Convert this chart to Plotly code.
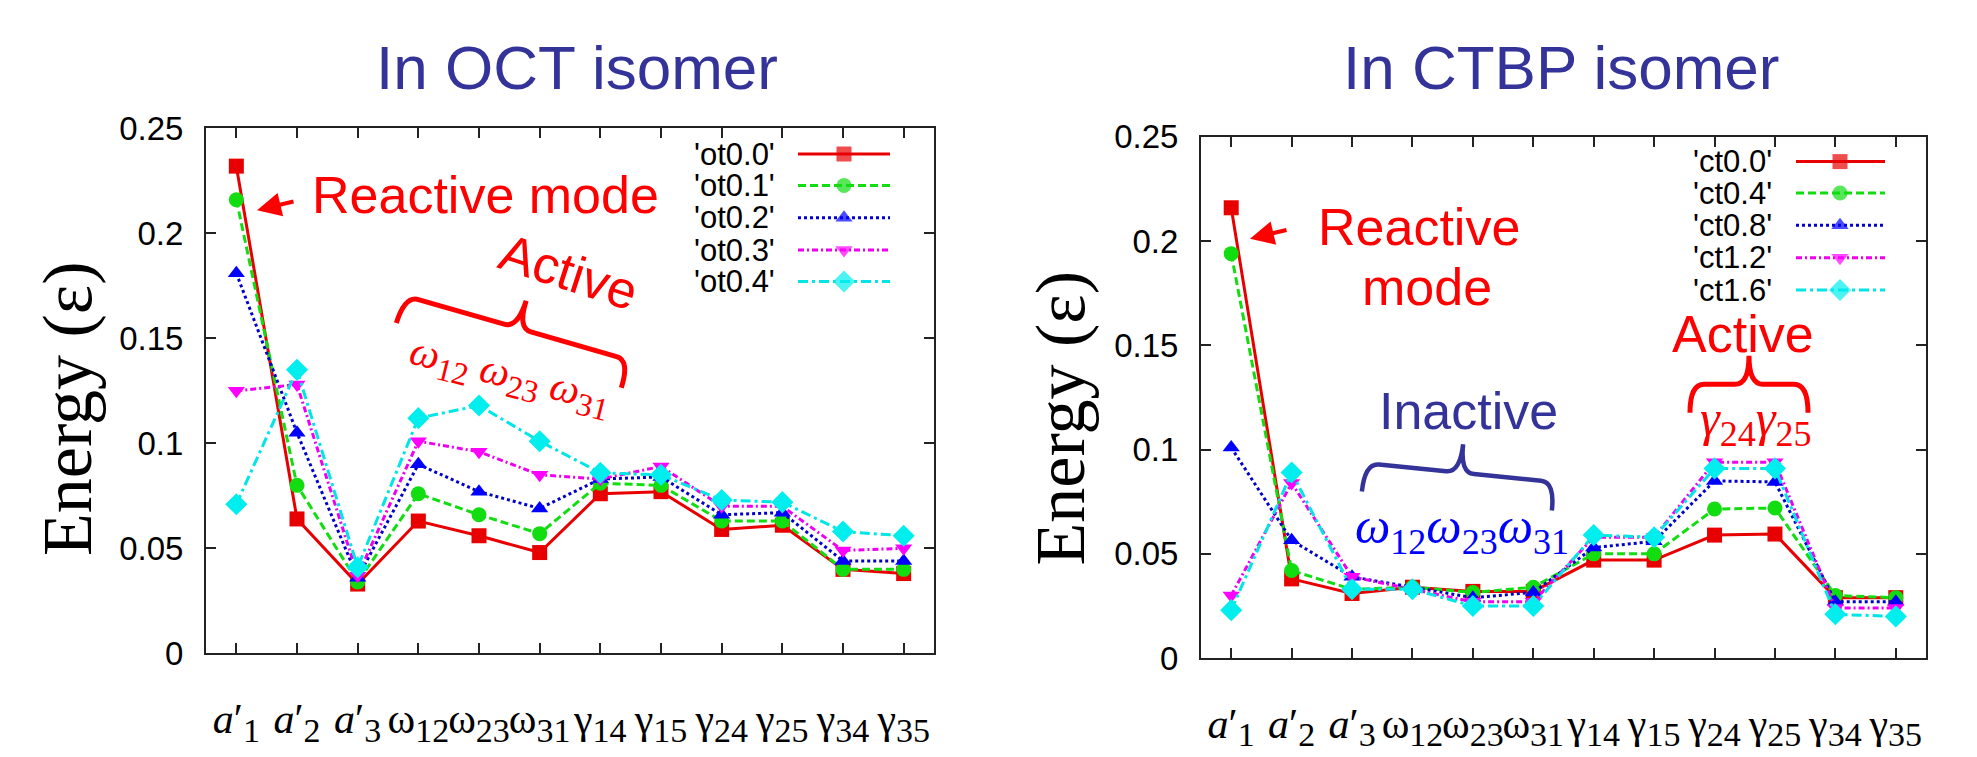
import math
import plotly.graph_objects as go

W, H = 1977, 757

# ---------------- data ----------------
tick_labels = [
    "<i>a</i>′<sub><span style='font-size:34px'>1</span></sub>",
    "<i>a</i>′<sub><span style='font-size:34px'>2</span></sub>",
    "<i>a</i>′<sub><span style='font-size:34px'>3</span></sub>",
    "ω<sub><span style='font-size:34px'>12</span></sub>",
    "ω<sub><span style='font-size:34px'>23</span></sub>",
    "ω<sub><span style='font-size:34px'>31</span></sub>",
    "γ<sub><span style='font-size:34px'>14</span></sub>",
    "γ<sub><span style='font-size:34px'>15</span></sub>",
    "γ<sub><span style='font-size:34px'>24</span></sub>",
    "γ<sub><span style='font-size:34px'>25</span></sub>",
    "γ<sub><span style='font-size:34px'>34</span></sub>",
    "γ<sub><span style='font-size:34px'>35</span></sub>",
]
modes = list(range(12))

oct_names = ["'ot0.0'", "'ot0.1'", "'ot0.2'", "'ot0.3'", "'ot0.4'"]
ot00 = [0.232, 0.064, 0.033, 0.063, 0.056, 0.048, 0.076, 0.077, 0.059, 0.061, 0.040, 0.038]
ot01 = [0.216, 0.080, 0.034, 0.076, 0.066, 0.057, 0.081, 0.080, 0.063, 0.063, 0.040, 0.040]
ot02 = [0.181, 0.105, 0.036, 0.090, 0.077, 0.069, 0.083, 0.084, 0.066, 0.067, 0.044, 0.044]
ot03 = [0.125, 0.128, 0.037, 0.101, 0.096, 0.085, 0.083, 0.089, 0.070, 0.070, 0.049, 0.050]
ot04 = [0.071, 0.135, 0.041, 0.112, 0.118, 0.101, 0.086, 0.085, 0.073, 0.072, 0.058, 0.056]

ctbp_names = ["'ct0.0'", "'ct0.4'", "'ct0.8'", "'ct1.2'", "'ct1.6'"]
ct00 = [0.216, 0.038, 0.031, 0.034, 0.032, 0.032, 0.047, 0.047, 0.059, 0.0595, 0.029, 0.029]
ct04 = [0.194, 0.042, 0.033, 0.034, 0.0315, 0.034, 0.050, 0.050, 0.0715, 0.072, 0.030, 0.029]
ct08 = [0.101, 0.0565, 0.039, 0.034, 0.029, 0.0315, 0.053, 0.056, 0.085, 0.0845, 0.027, 0.027]
ct12 = [0.030, 0.084, 0.039, 0.033, 0.027, 0.027, 0.058, 0.058, 0.094, 0.094, 0.024, 0.024]
ct16 = [0.023, 0.089, 0.033, 0.033, 0.025, 0.025, 0.059, 0.058, 0.091, 0.091, 0.021, 0.020]

y_tickvals = [0, 0.05, 0.1, 0.15, 0.2, 0.25]
y_ticktext = ["0", "0.05", "0.1", "0.15", "0.2", "0.25"]

# ---------------- styles ----------------
colors = ["#e80000", "#11dd11", "#0000cc", "#ee00ee", "#00e5e5"]
marker_colors = ["#e80000", "#11dd11", "#0000ff", "#ff00ff", "#00eeee"]
dashes = ["solid", "8px,4px", "3px,3px", "6px,3px,2px,3px", "10px,4px,3px,4px"]
symbols = ["square", "circle", "triangle-up", "triangle-down", "diamond"]
msizes = [15, 15, 15, 15, 17]
LW = 3

NAVY = "#333399"
RED = "#ff0000"


def px(x):
    return x / W


def py(y):
    return 1 - y / H


fig = go.Figure()

series_sets = [
    (oct_names, [ot00, ot01, ot02, ot03, ot04], "x", "y"),
    (ctbp_names, [ct00, ct04, ct08, ct12, ct16], "x2", "y2"),
]
for names, sets, xa, ya in series_sets:
    for i, (nm, vals) in enumerate(zip(names, sets)):
        fig.add_trace(go.Scatter(
            x=modes, y=vals, name=nm, mode="lines+markers",
            xaxis=xa, yaxis=ya, showlegend=False,
            line=dict(color=colors[i], width=LW, dash=dashes[i]),
            marker=dict(symbol=symbols[i], size=msizes[i], color=marker_colors[i],
                        line=dict(width=0)),
            cliponaxis=False,
        ))

# ---------------- manual gnuplot-style legends ----------------
legend_layouts = [
    (oct_names, 777, 798, 844, 890, [143, 176, 210, 244, 277]),
    (ctbp_names, 1774, 1796, 1840, 1885, [151, 184, 218, 252, 286]),
]
annotations = []
for names, tx, lx0, lxm, lx1, rows in legend_layouts:
    for i, (nm, ry) in enumerate(zip(names, rows)):
        fig.add_trace(go.Scatter(
            x=[lx0, lxm, lx1], y=[ry, ry, ry], mode="lines+markers",
            xaxis="x3", yaxis="y3", showlegend=False, hoverinfo="skip",
            line=dict(color=colors[i], width=LW, dash=dashes[i]),
            marker=dict(symbol=symbols[i], size=[0, msizes[i], 0], color=marker_colors[i],
                        line=dict(width=0)),
        ))
        annotations.append(dict(
            x=px(tx), y=py(ry), xref="paper", yref="paper", text=nm, showarrow=False,
            xanchor="right", yanchor="middle",
            font=dict(family="Liberation Sans, Arial", size=31, color="black"),
        ))

# ---------------- texts ----------------
def ann(text, x, y, size, color, family="Liberation Sans, Arial", angle=0):
    annotations.append(dict(
        x=px(x), y=py(y), xref="paper", yref="paper", text=text, showarrow=False,
        xanchor="center", yanchor="middle", textangle=angle,
        font=dict(family=family, size=size, color=color),
    ))


ann("In OCT isomer", 577, 52, 62, NAVY)
ann("In CTBP isomer", 1561, 52, 62, NAVY)
ann("Energy (ε)", 68, 411, 70, "black", family="Liberation Serif, Times New Roman", angle=-90)
ann("Energy (ε)", 1060, 421, 70, "black", family="Liberation Serif, Times New Roman", angle=-90)

ann("Reactive mode", 485, 186, 52, RED)
ann("Active", 569, 267, 52, RED, angle=18)
sub = "<sub><span style='font-size:32px'>%s</span></sub>"
ann("<i>ω</i>" + sub % "12" + " <i>ω</i>" + sub % "23" + " <i>ω</i>" + sub % "31",
    510, 378, 42, RED, family="Liberation Serif, Times New Roman", angle=14)

ann("Reactive", 1419, 220, 52, RED)
ann("mode", 1427, 283, 52, RED)
ann("Active", 1743, 332, 52, RED)
ann("Inactive", 1468, 413, 52, NAVY)
sub2 = "<sub><span style='font-size:36px'>%s</span></sub>"
ann("<i>ω</i>" + sub2 % "12" + "<i>ω</i>" + sub2 % "23" + "<i>ω</i>" + sub2 % "31",
    1462, 538, 50, "#0000ff", family="Liberation Serif, Times New Roman")
ann("<i>γ</i>" + sub2 % "24" + "<i>γ</i>" + sub2 % "25",
    1755, 425, 50, RED, family="Liberation Serif, Times New Roman")

# arrows
for hx, hy in [(257, 202), (1250, 232)]:
    annotations.append(dict(
        x=px(hx), y=py(hy), xref="paper", yref="paper", text="", showarrow=True,
        ax=38, ay=-9, arrowhead=2, arrowsize=1.2, arrowwidth=4, arrowcolor=RED,
    ))

# ---------------- braces ----------------
def brace(A, B, hook, tip, color, width):
    ax_, ay_ = A
    bx, by = B
    L = math.hypot(bx - ax_, by - ay_)
    dx, dy = (bx - ax_) / L, (by - ay_) / L
    nx, ny = dy, -dx  # normal pointing "up" (toward tip)

    def P(u, v):
        X = ax_ + u * dx + v * nx
        Y = ay_ + u * dy + v * ny
        return f"{px(X):.5f},{py(Y):.5f}"

    r = 14
    m = L / 2
    path = (f"M {P(0, -hook)} Q {P(0, 0)} {P(r, 0)} L {P(m - r, 0)} "
            f"Q {P(m, 0)} {P(m, tip)} Q {P(m, 0)} {P(m + r, 0)} "
            f"L {P(L - r, 0)} Q {P(L, 0)} {P(L, -hook)}")
    return dict(type="path", path=path, xref="paper", yref="paper",
                line=dict(color=color, width=width))


shapes = [
    brace((405, 292), (630, 360), 30, 30, RED, 5),
    brace((1365, 468), (1555, 488), 30, 30, NAVY, 4.5),
    brace((1690, 385), (1808, 385), 30, 30, RED, 5),
]

# ---------------- axes ----------------
def xaxis(domain, anchor):
    return dict(
        domain=domain, anchor=anchor, range=[-0.5, 11.5],
        tickmode="array", tickvals=modes, ticktext=tick_labels, tickangle=0,
        ticks="inside", ticklen=10, tickwidth=1.5, tickcolor="#222",
        showline=True, linecolor="#222", linewidth=2, mirror="ticks",
        showgrid=False, zeroline=False, ticklabelstandoff=27,
        tickfont=dict(family="Liberation Serif, Times New Roman", size=42, color="black"),
    )


def yaxis(domain, anchor):
    return dict(
        domain=domain, anchor=anchor, range=[0, 0.25],
        tickmode="array", tickvals=y_tickvals, ticktext=y_ticktext,
        ticks="inside", ticklen=10, tickwidth=1.5, tickcolor="#222",
        showline=True, linecolor="#222", linewidth=2, mirror="ticks",
        showgrid=False, zeroline=False, ticklabelstandoff=14,
        tickfont=dict(family="Liberation Sans, Arial", size=33, color="black"),
    )


fig.update_layout(
    width=W, height=H, margin=dict(l=0, r=0, t=0, b=0, pad=0),
    paper_bgcolor="white", plot_bgcolor="rgba(0,0,0,0)",
    showlegend=False,
    xaxis=xaxis([px(206), px(934)], "y"),
    yaxis=yaxis([py(668), py(116)], "x"),
    xaxis2=xaxis([px(1201), px(1926)], "y2"),
    yaxis2=yaxis([py(673), py(125)], "x2"),
    xaxis3=dict(domain=[0, 1], anchor="y3", range=[0, W], visible=False, fixedrange=True),
    yaxis3=dict(domain=[0, 1], anchor="x3", range=[H, 0], visible=False, fixedrange=True),
    annotations=annotations,
    shapes=shapes,
)

fig.write_html("out.html")
